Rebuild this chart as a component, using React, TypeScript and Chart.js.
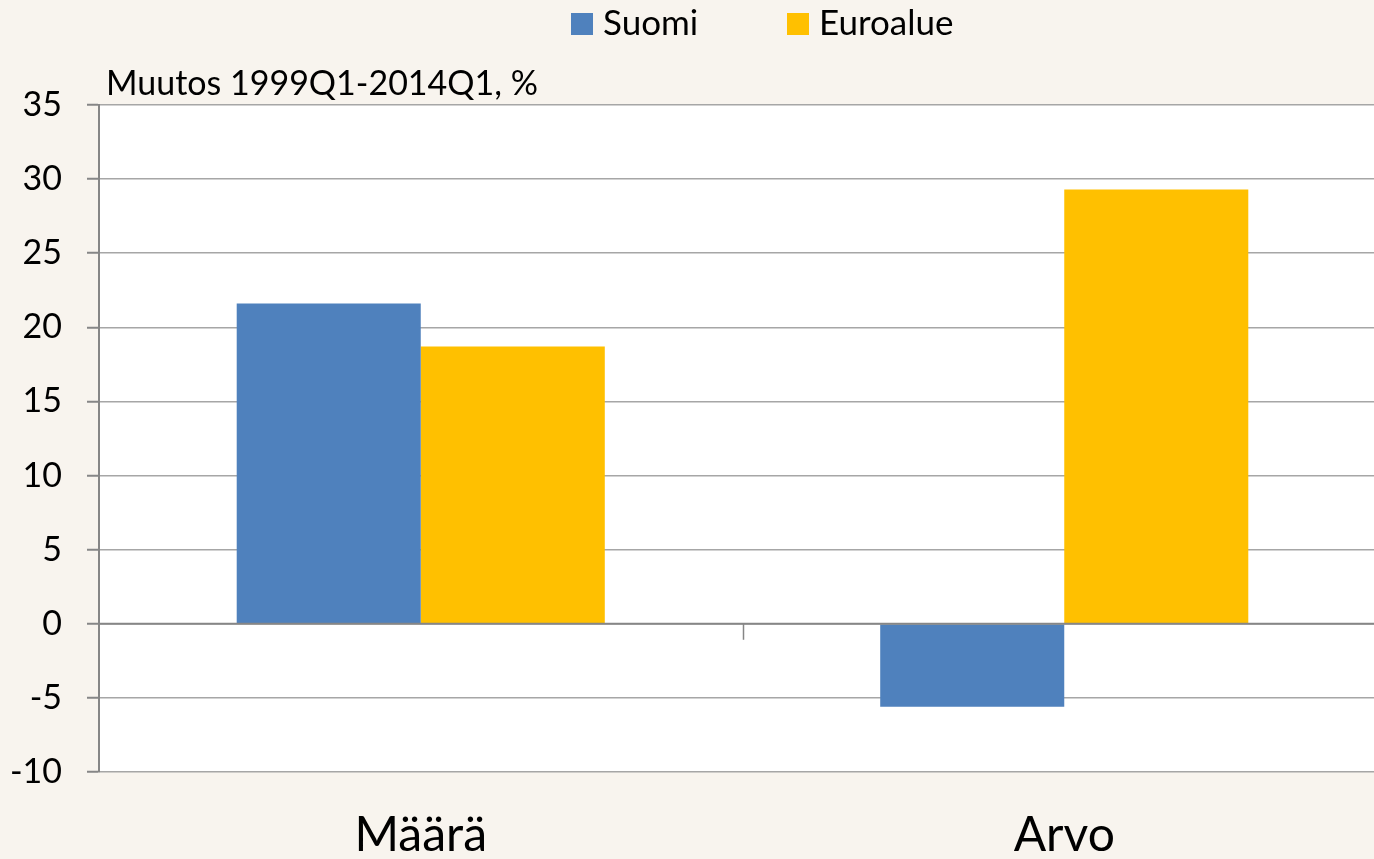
import React, { useEffect, useRef } from "react";
import { Chart, registerables } from "chart.js";

Chart.register(...registerables);

const categories = ["Määrä", "Arvo"];
const seriesNames = ["Suomi", "Euroalue"];
const suomiValues = [21.6, -5.6];
const euroalueValues = [18.7, 29.3];
const seriesColors = ["#4F81BD", "#FFC000"];
const yMin = -10;
const yMax = 35;
const yStep = 5;
const axisTitle = "Muutos 1999Q1-2014Q1, %";

const FONT = "Lato, 'Open Sans', sans-serif";

export default function App() {
  const ref = useRef<HTMLCanvasElement | null>(null);

  useEffect(() => {
    if (!ref.current) return;
    const decor = {
      id: "decor",
      beforeDraw(chart: any) {
        const { ctx, chartArea } = chart;
        ctx.save();
        ctx.fillStyle = "#FFFFFF";
        ctx.fillRect(chartArea.left, chartArea.top, chartArea.right - chartArea.left, chartArea.bottom - chartArea.top);
        ctx.restore();
      },
      afterDatasetsDraw(chart: any) {
        const { ctx, chartArea, scales } = chart;
        const y0 = scales.y.getPixelForValue(0);
        ctx.save();
        ctx.strokeStyle = "#868686";
        ctx.lineWidth = 2;
        ctx.beginPath();
        ctx.moveTo(chartArea.left, y0);
        ctx.lineTo(chartArea.right, y0);
        ctx.stroke();
        // category boundary tick mark
        const xa = scales.x.getPixelForValue(0);
        const xb = scales.x.getPixelForValue(1);
        const xm = Math.round((xa + xb) / 2) + 0.5;
        ctx.lineWidth = 1.5;
        ctx.beginPath();
        ctx.moveTo(xm, y0);
        ctx.lineTo(xm, y0 + 16);
        ctx.stroke();
        ctx.restore();
      },
      afterDraw(chart: any) {
        const { ctx, chartArea } = chart;
        ctx.save();
        ctx.fillStyle = "#000000";
        ctx.font = `34px ${FONT}`;
        ctx.textBaseline = "middle";
        ctx.textAlign = "left";
        ctx.fillText(axisTitle, chartArea.left + 7, 84);
        // legend
        ctx.font = `35px ${FONT}`;
        const boxX = [571, 787];
        chart.data.datasets.forEach((ds: any, i: number) => {
          ctx.fillStyle = ds.backgroundColor;
          ctx.fillRect(boxX[i], 13, 22, 22);
          ctx.fillStyle = "#000000";
          ctx.fillText(ds.label, boxX[i] + 32, 24);
        });
        ctx.restore();
      },
    };

    const chart = new Chart(ref.current, {
      type: "bar",
      data: {
        labels: categories,
        datasets: [
          { label: seriesNames[0], data: suomiValues, backgroundColor: seriesColors[0], borderWidth: 0 },
          { label: seriesNames[1], data: euroalueValues, backgroundColor: seriesColors[1], borderWidth: 0 },
        ],
      },
      plugins: [decor],
      options: {
        responsive: false,
        animation: false,
        devicePixelRatio: 1,
        layout: { padding: { top: 105, left: 0, right: 0, bottom: 0 } },
        plugins: {
          legend: { display: false },
          title: { display: false },
          tooltip: { enabled: false },
        },
        datasets: { bar: { categoryPercentage: 0.572, barPercentage: 1 } },
        scales: {
          x: {
            grid: { display: false, drawTicks: false },
            border: { display: false },
            ticks: { color: "#000000", font: { family: FONT, size: 48 }, padding: 35, maxRotation: 0 },
            afterFit(scale: any) {
              scale.height = 87;
            },
          },
          y: {
            min: yMin,
            max: yMax,
            ticks: { stepSize: yStep, color: "#000000", font: { family: FONT, size: 34 }, padding: 25 },
            grid: {
              color: "#A6A6A6",
              lineWidth: 1.5,
              tickLength: 12,
              tickColor: "#868686",
              tickWidth: 2,
            },
            border: { display: true, color: "#868686", width: 2 },
            afterFit(scale: any) {
              scale.width = 99;
            },
          },
        },
      },
    } as any);
    return () => chart.destroy();
  }, []);

  return (
    <div style={{ position: "fixed", left: 0, top: 0, width: 1374, height: 859, overflow: "hidden", background: "#F8F4EE" }}>
      <canvas ref={ref} width={1386} height={859} style={{ display: "block", width: 1386, height: 859 }} />
    </div>
  );
}
